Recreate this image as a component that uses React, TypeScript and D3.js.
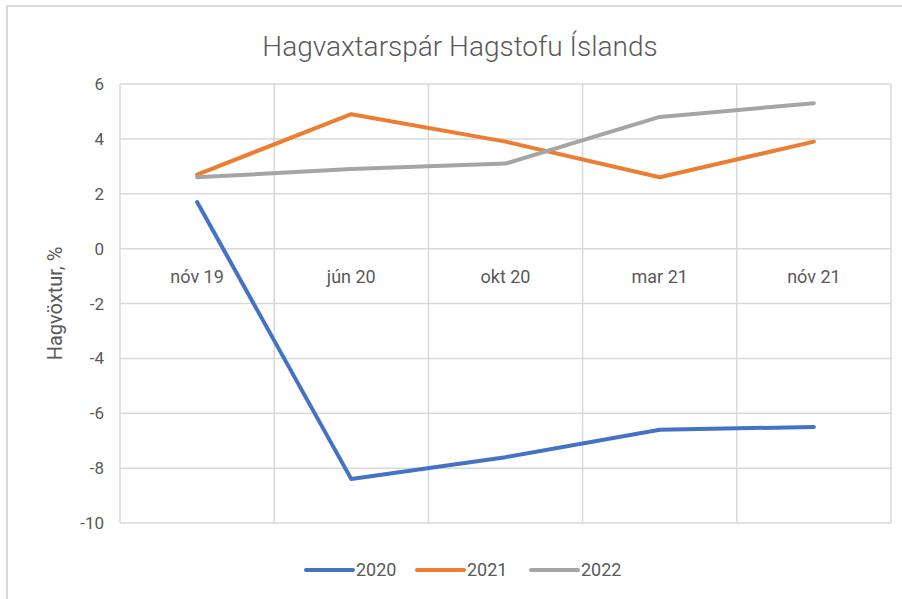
import React, { useEffect, useRef } from "react";
import * as d3 from "d3";

const categories = ["nóv 19", "jún 20", "okt 20", "mar 21", "nóv 21"];
const seriesNames = ["2020", "2021", "2022"];
const values2020 = [1.7, -8.4, -7.6, -6.6, -6.5];
const values2021 = [2.7, 4.9, 3.9, 2.6, 3.9];
const values2022 = [2.6, 2.9, 3.1, 4.8, 5.3];
const colors = ["#4472C4", "#ED7D31", "#A5A5A5"];
const yTicks = [-10, -8, -6, -4, -2, 0, 2, 4, 6];

const App = () => {
  const ref = useRef<SVGSVGElement>(null);

  useEffect(() => {
    const width = 902;
    const height = 599;
    const font = "Roboto, 'Open Sans', sans-serif";
    const textColor = "#595959";
    const gridColor = "#d9d9d9";

    const svg = d3.select(ref.current)
        .attr("width", width)
        .attr("height", height)
        .style("font-family", font);
    svg.selectAll("*").remove();

    svg.append("rect")
        .attr("width", width)
        .attr("height", height)
        .attr("fill", "#fff");

    // outer frame (only top and left show in the crop)
    svg.append("path")
        .attr("d", `M7,${height} V6 H${width}`)
        .attr("fill", "none")
        .attr("stroke", gridColor)
        .attr("stroke-width", 2);

    const x = d3.scaleBand().domain(categories).range([120, 891]);
    const y = d3.scaleLinear().domain([-10, 6]).range([523, 84]);

    const grid = svg.append("g").attr("stroke", gridColor).attr("stroke-width", 1.5);
    grid.selectAll("line.h")
      .data(yTicks)
      .join("line")
        .attr("x1", x.range()[0])
        .attr("x2", x.range()[1])
        .attr("y1", d => y(d))
        .attr("y2", d => y(d));
    const bounds = categories.map(c => x(c)!).concat([x.range()[1]]);
    grid.selectAll("line.v")
      .data(bounds)
      .join("line")
        .attr("x1", d => d)
        .attr("x2", d => d)
        .attr("y1", y(6))
        .attr("y2", y(-10));

    svg.append("g")
      .selectAll("text")
      .data(yTicks)
      .join("text")
        .attr("x", 104)
        .attr("y", d => y(d))
        .attr("dy", "0.36em")
        .attr("text-anchor", "end")
        .attr("font-size", 17)
        .attr("fill", textColor)
        .text(d => d);

    svg.append("g")
      .selectAll("text")
      .data(categories)
      .join("text")
        .attr("x", d => x(d)! + x.bandwidth() / 2)
        .attr("y", y(0) + 34)
        .attr("text-anchor", "middle")
        .attr("font-size", 18)
        .attr("fill", textColor)
        .text(d => d);

    svg.append("text")
        .attr("transform", `translate(62,${(y(6) + y(-10)) / 2}) rotate(-90)`)
        .attr("text-anchor", "middle")
        .attr("font-size", 20)
        .attr("fill", textColor)
        .text("Hagvöxtur, %");

    svg.append("text")
        .attr("x", 460)
        .attr("y", 56)
        .attr("text-anchor", "middle")
        .attr("font-size", 28)
        .attr("font-weight", 300)
        .attr("fill", textColor)
        .text("Hagvaxtarspár Hagstofu Íslands");

    const series = [values2020, values2021, values2022];
    const line = d3.line<number>()
        .x((_, i) => x(categories[i])! + x.bandwidth() / 2)
        .y(d => y(d));

    svg.append("g")
      .selectAll("path")
      .data(series)
      .join("path")
        .attr("fill", "none")
        .attr("stroke", (_, i) => colors[i])
        .attr("stroke-width", 4)
        .attr("stroke-linecap", "round")
        .attr("stroke-linejoin", "round")
        .attr("d", d => line(d));

    const legendX = [305, 416, 530];
    const legend = svg.append("g")
      .selectAll("g")
      .data(seriesNames)
      .join("g")
        .attr("transform", (_, i) => `translate(${legendX[i]},570)`);
    legend.append("line")
        .attr("x1", 1)
        .attr("x2", 48)
        .attr("stroke", (_, i) => colors[i])
        .attr("stroke-width", 4)
        .attr("stroke-linecap", "round");
    legend.append("text")
        .attr("x", 51)
        .attr("dy", "0.36em")
        .attr("font-size", 18)
        .attr("fill", textColor)
        .text(d => d);
  }, []);

  return <svg ref={ref} style={{ position: "absolute", left: 0, top: 0 }}></svg>;
};

export default App;
